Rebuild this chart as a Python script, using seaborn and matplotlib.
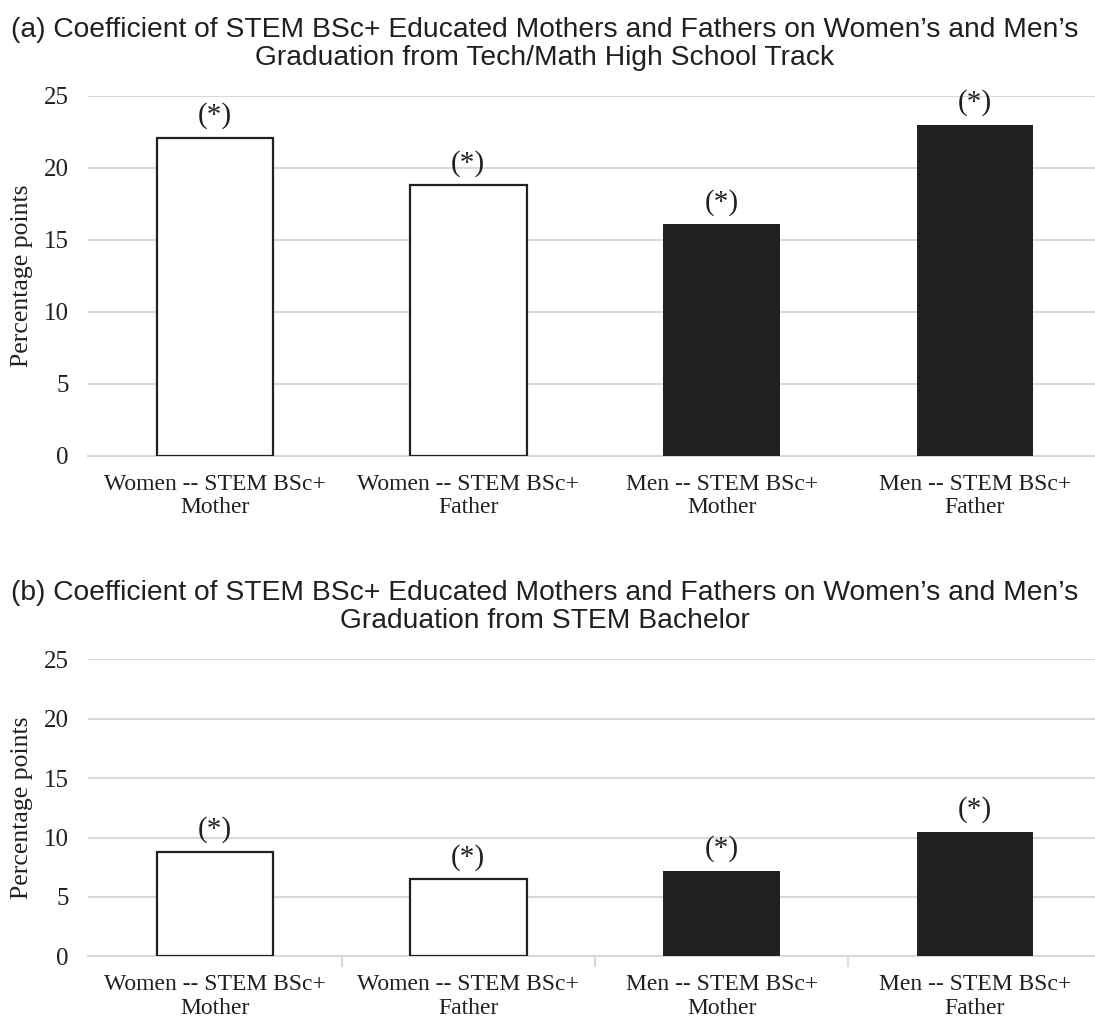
import matplotlib
matplotlib.use("Agg")
import matplotlib.pyplot as plt
import seaborn as sns
import pandas as pd

# Categories and estimated coefficients (percentage points)
categories = ["Women -- STEM BSc+\nMother", "Women -- STEM BSc+\nFather",
              "Men -- STEM BSc+\nMother", "Men -- STEM BSc+\nFather"]
tech_math_track = [22.1, 18.8, 16.1, 23.0]
stem_bachelor = [8.8, 6.5, 7.2, 10.5]
significance = ["(*)", "(*)", "(*)", "(*)"]
y_ticks = [0, 5, 10, 15, 20, 25]

title_a = ("(a) Coefficient of STEM BSc+ Educated Mothers and Fathers on Women\u2019s and Men\u2019s\n"
           "Graduation from Tech/Math High School Track")
title_b = ("(b) Coefficient of STEM BSc+ Educated Mothers and Fathers on Women\u2019s and Men\u2019s\n"
           "Graduation from STEM Bachelor")

sns.set_theme(style="white")
plt.rcParams["font.family"] = ["Liberation Serif", "DejaVu Serif"]

DARK = "#231f20"
GRID = "#d9d9d9"
palette = {categories[0]: "white", categories[1]: "white",
           categories[2]: DARK, categories[3]: DARK}

W, H = 1095, 1029
fig = plt.figure(figsize=(W / 100, H / 100), dpi=100)

left = 88.3 / W
width = 1013.3 / W
ax_a = fig.add_axes([left, 1 - 455.7 / H, width, (455.7 - 96) / H])
ax_b = fig.add_axes([left, 1 - 956.3 / H, width, (956.3 - 659.3) / H])


def draw_panel(ax, values, boundary_ticks):
    df = pd.DataFrame({"category": categories, "value": values})
    sns.barplot(data=df, x="category", y="value", hue="category",
                palette=palette, order=categories, hue_order=categories,
                width=0.46, edgecolor=DARK, linewidth=1.6,
                legend=False, ax=ax, zorder=3)
    for patch in ax.patches:
        if patch.get_facecolor()[0] > 0.5:
            patch.set_linewidth(1.6)
        else:
            patch.set_linewidth(0)
    ax.set_ylim(0, 25)
    ax.set_xlim(-0.5, 3.5)
    ax.set_yticks(y_ticks)
    ax.yaxis.grid(True, color=GRID, linewidth=1.5, zorder=0)
    ax.set_axisbelow(True)
    for side in ["top", "right", "left"]:
        ax.spines[side].set_visible(False)
    ax.spines["bottom"].set_color(GRID)
    ax.spines["bottom"].set_linewidth(1.5)
    ax.spines["bottom"].set_zorder(1)
    ax.set_xlabel("")
    ax.set_ylabel("Percentage points", fontsize=18.5, labelpad=8, color=DARK)
    ax.set_xticks(range(len(categories)))
    ax.set_xticklabels(categories, linespacing=1.15)
    ax.tick_params(axis="y", labelsize=18, length=0, pad=14, labelcolor=DARK)
    ax.tick_params(axis="x", labelsize=17, length=0, pad=13, labelcolor=DARK)
    if boundary_ticks:
        ax.set_xticks([0.5, 1.5, 2.5], minor=True)
        ax.tick_params(axis="x", which="minor", bottom=True, length=8,
                       width=1.5, color=GRID)
    for i, (v, s) in enumerate(zip(values, significance)):
        ax.annotate(s, xy=(i, v), xytext=(0, 6), textcoords="offset points",
                    ha="center", va="bottom", fontsize=21, color=DARK)


draw_panel(ax_a, tech_math_track, False)
draw_panel(ax_b, stem_bachelor, True)

title_font = ["Liberation Sans", "DejaVu Sans"]
fig.text(0.4977, 1 - 44 / H, title_a, ha="center", va="center", fontsize=20.3,
         family=title_font, color=DARK, linespacing=1.12)
fig.text(0.4977, 1 - 607 / H, title_b, ha="center", va="center", fontsize=20.3,
         family=title_font, color=DARK, linespacing=1.12)

fig.savefig("out.png", dpi=100, facecolor="white")
